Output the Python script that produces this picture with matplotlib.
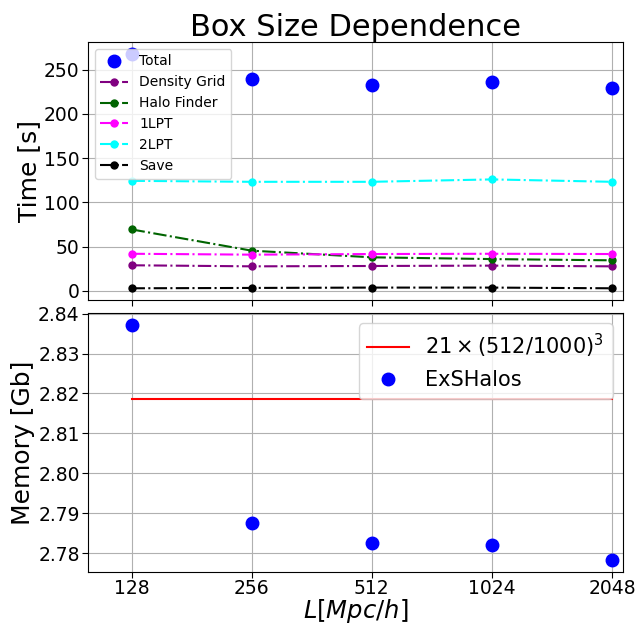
import matplotlib
matplotlib.use('Agg')
import matplotlib.pyplot as plt
from matplotlib.ticker import MultipleLocator

# box sizes
L = [128, 256, 512, 1024, 2048]

# timings [s]
total = [268, 240, 233, 235.5, 229]
density_grid = [29, 27.8, 28.2, 28.6, 27.8]
halo_finder = [69.5, 45.5, 38, 36, 34.6]
lpt1 = [42, 41, 41.7, 42, 41.7]
lpt2 = [124.4, 123.3, 123.3, 126, 123.3]
save = [3, 3.4, 3.8, 3.8, 3]

# memory [Gb]
memory = [2.8372, 2.7876, 2.7826, 2.7821, 2.7782]
mem_model = 21*(512/1000.)**3

fig = plt.figure(figsize=(6.44, 6.24), dpi=100)
ax1 = fig.add_axes([0.1366, 0.5192, 0.8307, 0.4135])
ax2 = fig.add_axes([0.1366, 0.0833, 0.8307, 0.415], sharex=ax1)

###############################################################################

ax1.plot(L, total, 'o', color='blue', markersize=9, label='Total')
ax1.plot(L, density_grid, 'o-.', color='purple', markersize=5, label='Density Grid')
ax1.plot(L, halo_finder, 'o-.', color='darkgreen', markersize=5, label='Halo Finder')
ax1.plot(L, lpt1, 'o-.', color='magenta', markersize=5, label='1LPT')
ax1.plot(L, lpt2, 'o-.', color='cyan', markersize=5, label='2LPT')
ax1.plot(L, save, 'o-.', color='black', markersize=5, label='Save')

ax1.set_title('Box Size Dependence', fontsize=22, pad=4)
ax1.set_ylabel('Time [s]', fontsize=18, labelpad=2)
ax1.grid(True)
ax1.legend(loc='upper left', fontsize=10)
ax1.tick_params(labelsize=13.5, pad=2, length=4)
plt.setp(ax1.get_xticklabels(), visible=False)

###############################################################################

ax2.plot(L, [mem_model]*len(L), '-', color='red', label=r'$21 \times (512/1000)^3$')
ax2.plot(L, memory, 'o', color='blue', markersize=9, label='ExSHalos')

ax2.set_xscale('log', base=2)
ax2.set_xticks(L)
ax2.set_xticklabels([str(l) for l in L])
ax2.minorticks_off()
ax2.set_xlim(99.5, 2180)
ax2.yaxis.set_major_locator(MultipleLocator(0.01))
ax2.set_xlabel(r'$L[Mpc/h]$', fontsize=17.5, labelpad=-1)
ax2.set_ylabel('Memory [Gb]', fontsize=18, labelpad=2)
ax2.grid(True)
ax2.legend(loc='upper right', fontsize=15)
ax2.tick_params(labelsize=13.5, pad=2, length=4)
ax2.tick_params(axis='x', pad=1)

plt.savefig('out.png', dpi=100)
